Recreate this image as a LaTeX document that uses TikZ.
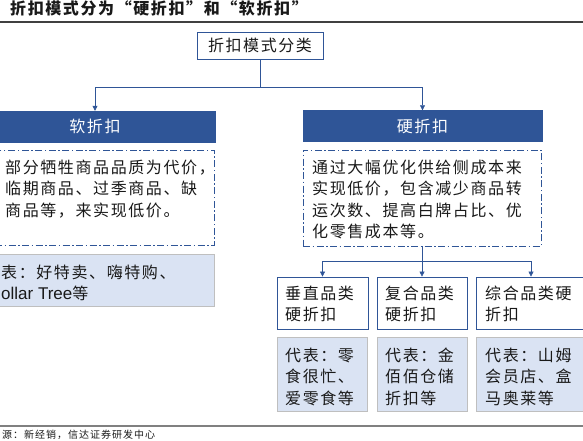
\documentclass[tikz,border=0pt]{standalone}
\usepackage{fontspec}
\setmainfont{Liberation Sans}
\newfontfamily\cjk[LetterSpace=10]{Noto Sans CJK SC}
\usetikzlibrary{arrows.meta}
\definecolor{xBlue}{RGB}{47,85,151}
\definecolor{xFill}{RGB}{218,227,243}
\definecolor{xEdge}{RGB}{191,191,191}
\definecolor{xInk}{RGB}{25,25,25}
\tikzset{
  x=1pt, y=-1pt,
  headbox/.style={draw=xBlue, fill=xBlue, text=white, inner sep=0pt, minimum height=31pt,
                  font=\cjk\fontsize{16}{18}\selectfont},
  rootbox/.style={draw=xBlue, thick, fill=white, text=xInk, inner sep=0pt, minimum height=27pt,
                  font=\cjk\fontsize{16}{18}\selectfont},
  dotbox/.style={draw=xBlue, semithick, inner sep=0pt, dash pattern=on 7pt off 2.5pt on 1.5pt off 2.5pt},
  catbox/.style={draw=xBlue, thick, fill=white, inner sep=0pt, minimum height=52pt},
  repbox/.style={draw=xEdge, fill=xFill, inner sep=0pt},
  txt/.style={anchor=north west, align=left, inner sep=0pt, text=xInk,
              font=\cjk\fontsize{16}{21.5}\selectfont},
  link/.style={-{Triangle[length=5pt, width=5pt]}, xBlue, semithick},
}
\newcommand{\latin}[1]{{\fontspec{Liberation Sans}\fontsize{17}{21.5}\selectfont #1}}

\begin{document}
\begin{tikzpicture}
    \useasboundingbox (0,0) rectangle (583,441);
    % title and rules
    \node[anchor=west, inner sep=0pt, text=xInk, font=\cjk\bfseries\fontsize{16}{18}\selectfont]
      (title) at (10,8.5) {折扣模式分为“硬折扣”和“软折扣”};
    \draw[draw={rgb,255:red,64;green,64;blue,64}, line width=1.2pt] (0,22) -- (583,22);
    \draw[draw={rgb,255:red,128;green,128;blue,128}, line width=1.5pt] (0,426) -- (583,426);
    \node[anchor=west, inner sep=0pt, text=xInk, font=\cjk\fontsize{10}{12}\selectfont]
      (src) at (2,434.5) {源：新经销，信达证券研发中心};

    % root
    \node[rootbox, minimum width=126pt] (root) at (260,45.5) {折扣模式分类};

    % soft side
    \node[headbox, minimum width=240pt] (softhd) at (95,126.5) {软折扣};
    \node[dotbox, minimum width=219pt, minimum height=95pt] (softdot) at (104.5,197.5) {};
    \node[txt] (softtxt) at (5,159.5) {部分牺牲商品品质为代价，\\临期商品、过季商品、缺\\商品等，来实现低价。};
    \node[repbox, minimum width=219pt, minimum height=52pt] (softrep) at (104.5,280) {};
    \node[txt] (softreptxt) at (1,264.5) {表：好特卖、嗨特购、\\\latin{ollar Tree}等};

    % hard side
    \node[headbox, minimum width=239pt] (hardhd) at (422.5,126) {硬折扣};
    \node[dotbox, minimum width=238pt, minimum height=96pt] (harddot) at (422,198) {};
    \node[txt] (hardtxt) at (312,159.5)
      {通过大幅优化供给侧成本来\\实现低价，包含减少商品转\\运次数、提高白牌占比、优\\化零售成本等。};

    % hard sub kinds
    \node[catbox, minimum width=91pt]  (vert) at (322.5,303) {};
    \node[catbox, minimum width=90pt]  (comp) at (422,303) {};
    \node[catbox, minimum width=114pt] (full) at (533,303) {};
    \node[txt] (verttxt) at (285,285.5) {垂直品类\\硬折扣};
    \node[txt] (comptxt) at (385,285.5) {复合品类\\硬折扣};
    \node[txt] (fulltxt) at (485,285.5) {综合品类硬\\折扣};

    \node[repbox, minimum width=90pt, minimum height=74pt]  (vertrep) at (322,374) {};
    \node[repbox, minimum width=90pt, minimum height=74pt]  (comprep) at (422,374) {};
    \node[repbox, minimum width=114pt, minimum height=74pt] (fullrep) at (533,374) {};
    \node[txt] (vertreptxt) at (285,347.5) {代表：零\\食很忙、\\爱零食等};
    \node[txt] (compreptxt) at (385,347.5) {代表：金\\佰佰仓储\\折扣等};
    \node[txt] (fullreptxt) at (485,347.5) {代表：山姆\\会员店、盒\\马奥莱等};

    % connectors
    \coordinate (split) at (260,87);
    \coordinate (split2) at (422,261);
    \draw[xBlue, semithick] (root.south) -- (split);
    \draw[link] (split) -| (softhd.north);
    \draw[link] (split) -| (hardhd.north);
    \draw[xBlue, semithick] (harddot.south) -- (split2);
    \draw[link] (split2) -| (vert.north);
    \draw[link] (split2) -- (comp.north);
    \draw[link] (split2) -| ([xshift=-2pt]full.north);
  \end{tikzpicture}
\end{document}
